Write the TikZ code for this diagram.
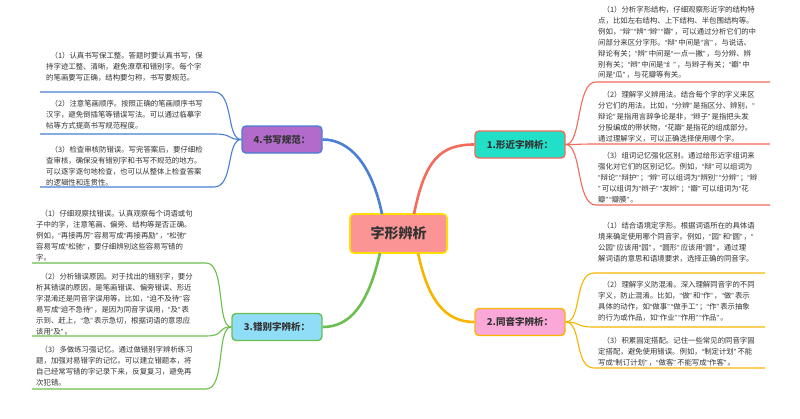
\documentclass[tikz,border=0pt]{standalone}
\usepackage{fontspec}
\setmainfont{Noto Sans CJK SC}
\newfontfamily\qf{Liberation Sans}
\newcommand\oq{{\qf “}}
\newcommand\cq{{\qf ”\,}}
\begin{document}
\begin{tikzpicture}[x=1pt,y=-1pt,
  txt/.style={anchor=north west,inner sep=0pt,align=left,text=black!80,font=\fontsize{7.4}{10.9}\selectfont},
  br/.style={draw=#1,line width=1.4pt,rounded corners=4pt,font=\fontsize{9.5}{11}\selectfont\bfseries,text=black!80,minimum height=27pt,inner xsep=6pt},
  main/.style={line width=2.6pt,draw=#1},
  sub/.style={line width=1.1pt,draw=#1}]
\definecolor{cred}{HTML}{F26B5B}\definecolor{corg}{HTML}{F7B500}
\definecolor{cgrn}{HTML}{6BBF4E}\definecolor{cblu}{HTML}{4A7FD4}
\useasboundingbox (0,0) rectangle (800,418);
\fill[white] (0,0) rectangle (800,418);
\node[draw=yellow!80!orange,fill={rgb,255:red,251;green,149;blue,149},line width=1.6pt,rounded corners=4pt,minimum width=97pt,minimum height=39pt,font=\fontsize{14}{16}\selectfont\bfseries,text=black!80] (c) at (398.5,233.5) {字形辨析};
\node[br=cred,fill={rgb,255:red,34;green,224;blue,200},minimum width=90pt] (n1) at (520,144.5) {1.形近字辨析：};
\node[br=corg,fill={rgb,255:red,251;green,168;blue,216},minimum width=90pt] (n2) at (520,322) {2.同音字辨析：};
\node[br=cgrn,fill={rgb,255:red,143;green,221;blue,247},minimum width=90pt] (n3) at (277,327) {3.错别字辨析：};
\node[br=cblu,fill={rgb,255:red,178;green,106;blue,203},minimum width=80pt] (n4) at (282,139.5) {4.书写规范：};
\coordinate (c1) at (414,214);\coordinate (c2) at (418,253);
\coordinate (c3) at (380,253);\coordinate (c4) at (382,214);
\draw[main=cred] (c1) .. controls (425,160) and (440,144.5) .. (n1.west);
\draw[main=corg] (c2) .. controls (428,300) and (445,322) .. (n2.west);
\draw[main=cgrn] (c3) .. controls (368,305) and (350,327) .. (n3.east);
\draw[main=cblu] (c4) .. controls (372,165) and (350,139.5) .. (n4.east);
\foreach \y/\n in {82/a,144/b,205/c}{\coordinate (r1\n) at (770,\y);}
\foreach \n/\y in {a/82,b/144,c/205}{\draw[sub=cred] (n1.east) .. controls (582,144.5) and (576,\y) .. (596,\y) -- (r1\n);}
\foreach \y/\n in {273/a,327/b,368/c}{\coordinate (r2\n) at (765,\y);}
\foreach \n/\y in {a/273,b/327,c/368}{\draw[sub=corg] (n2.east) .. controls (582,322) and (574,\y) .. (594,\y) -- (r2\n);}
\foreach \y/\n in {92/a,134/b,187/c}{\coordinate (l4\n) at (40,\y);}
\foreach \n/\y in {a/92,b/134,c/187}{\draw[sub=cblu] (n4.west) .. controls (226,139.5) and (234,\y) .. (214,\y) -- (l4\n);}
\foreach \y/\n in {263/a,336/b,389/c}{\coordinate (l3\n) at (32,\y);}
\foreach \n/\y in {a/263,b/336,c/389}{\draw[sub=cgrn] (n3.west) .. controls (216,327) and (226,\y) .. (206,\y) -- (l3\n);}
\node[txt] (t1a) at (598,6) {\hspace*{0.6em}（1）分析字形结构，仔细观察形近字的结构特\\点，比如左右结构、上下结构、半包围结构等。\\例如，\oq 辩\cq\oq 辨\cq\oq 辫\cq\oq 瓣\cq，可以通过分析它们的中\\间部分来区分字形。\oq 辩\cq 中间是\oq 言\cq，与说话、\\辩论有关；\oq 辨\cq 中间是\oq 一点一撇\cq，与分辨、辨\\别有关；\oq 辫\cq 中间是\oq 纟\cq，与辫子有关；\oq 瓣\cq 中\\间是\oq 瓜\cq，与花瓣等有关。};
\node[txt] (t1b) at (598,91) {\hspace*{0.6em}（2）理解字义辨用法。结合每个字的字义来区\\分它们的用法。比如，\oq 分辨\cq 是指区分、辨别，\oq\\辩论\cq 是指用言辞争论是非，\oq 辫子\cq 是指把头发\\分股编成的带状物，\oq 花瓣\cq 是指花的组成部分。\\通过理解字义，可以正确选择使用哪个字。};
\node[txt] (t1c) at (598,152) {\hspace*{0.6em}（3）组词记忆强化区别。通过给形近字组词来\\强化对它们的区别记忆。例如，\oq 辩\cq 可以组词为\\\oq 辩论\cq\oq 辩护\cq；\oq 辨\cq 可以组词为\oq 辨别\cq\oq 分辨\cq；\oq 辫\\\cq 可以组词为\oq 辫子\cq\oq 发辫\cq；\oq 瓣\cq 可以组词为\oq 花\\瓣\cq\oq 瓣膜\cq。};
\node[txt] (t2a) at (598,222) {\hspace*{0.6em}（1）结合语境定字形。根据词语所在的具体语\\境来确定使用哪个同音字。例如，\oq 园\cq 和\oq 圆\cq，\oq\\公园\cq 应该用\oq 园\cq，\oq 圆形\cq 应该用\oq 圆\cq。通过理\\解词语的意思和语境要求，选择正确的同音字。};
\node[txt] (t2b) at (598,281) {\hspace*{0.6em}（2）理解字义防混淆。深入理解同音字的不同\\字义，防止混淆。比如，\oq 做\cq 和\oq 作\cq，\oq 做\cq 表示\\具体的动作，如\oq 做事\cq\oq 做手工\cq；\oq 作\cq 表示抽象\\的行为或作品，如\oq 作业\cq\oq 作用\cq\oq 作品\cq。};
\node[txt] (t2c) at (598,337) {\hspace*{0.6em}（3）积累固定搭配。记住一些常见的同音字固\\定搭配，避免使用错误。例如，\oq 制定计划\cq 不能\\写成\oq 制订计划\cq，\oq 做客\cq 不能写成\oq 作客\cq。};
\node[txt] (t4a) at (46,52) {\hspace*{0.6em}（1）认真书写保工整。答题时要认真书写，保\\持字迹工整、清晰，避免潦草和错别字。每个字\\的笔画要写正确，结构要匀称，书写要规范。};
\node[txt] (t4b) at (46,100) {\hspace*{0.6em}（2）注意笔画顺序。按照正确的笔画顺序书写\\汉字，避免倒插笔等错误写法。可以通过临摹字\\帖等方式提高书写规范程度。};
\node[txt] (t4c) at (46,146) {\hspace*{0.6em}（3）检查审核防错误。写完答案后，要仔细检\\查审核，确保没有错别字和书写不规范的地方。\\可以逐字逐句地检查，也可以从整体上检查答案\\的逻辑性和连贯性。};
\node[txt] (t3a) at (36,210) {\hspace*{0.6em}（1）仔细观察找错误。认真观察每个词语或句\\子中的字，注意笔画、偏旁、结构等是否正确。\\例如，\oq 再接再厉\cq 容易写成\oq 再接再励\cq，\oq 松弛\cq\\容易写成\oq 松驰\cq，要仔细辨别这些容易写错的\\字。};
\node[txt] (t3b) at (36,273) {\hspace*{0.6em}（2）分析错误原因。对于找出的错别字，要分\\析其错误的原因，是笔画错误、偏旁错误、形近\\字混淆还是同音字误用等。比如，\oq 迫不及待\cq 容\\易写成\oq 迫不急待\cq，是因为同音字误用，\oq 及\cq 表\\示到、赶上，\oq 急\cq 表示急切，根据词语的意思应\\该用\oq 及\cq。};
\node[txt] (t3c) at (36,346) {\hspace*{0.6em}（3）多做练习强记忆。通过做错别字辨析练习\\题，加强对易错字的记忆。可以建立错题本，将\\自己经常写错的字记录下来，反复复习，避免再\\次犯错。};
\end{tikzpicture}
\end{document}
